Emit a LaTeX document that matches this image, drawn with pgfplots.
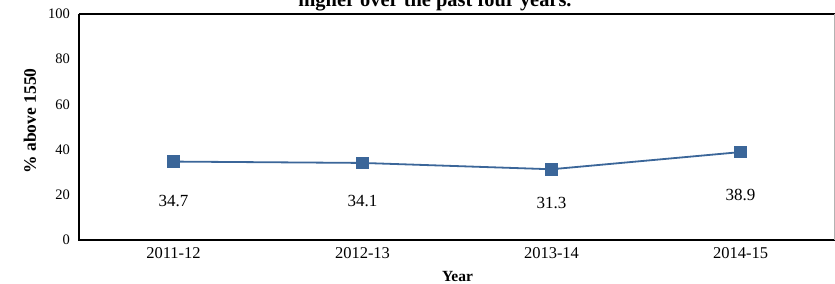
\documentclass[border=0pt]{standalone}
\usepackage{pgfplots}
\pgfplotsset{compat=1.18}
\usepackage{pgfplotstable}
\usepackage{fontspec}
\setmainfont{Liberation Serif}
\definecolor{serblue}{RGB}{59,102,153}
\pgfplotstableread{
x y off lab
0 34.7 -39.4 34.7
1 34.1 -37.8 34.1
2 31.3 -34.0 31.3
3 38.9 -43.0 38.9
}\datatab
\begin{document}
\begin{tikzpicture}
\begin{axis}[
  at={(0,0)}, anchor=south west,
  scale only axis, width=756bp, height=226bp,
  xmin=-0.5, xmax=3.5, ymin=0, ymax=100,
  xtick={0,1,2,3},
  xticklabels={2011-12,2012-13,2013-14,2014-15},
  ytick={0,20,40,60,80,100},
  major tick length=0pt,
  axis line style={draw=none},
  /pgf/number format/assume math mode=true,
  xticklabel style={font=\fontsize{16.5bp}{18bp}\selectfont, inner sep=0pt, anchor=north, yshift=-7bp},
  yticklabel style={font=\fontsize{14.5bp}{16bp}\selectfont, inner sep=0pt, anchor=east, xshift=-9bp},
  clip=false,
]
\addplot[color=serblue, line width=1.8bp, mark=square*, mark size=5.8bp,
  mark options={fill=serblue, draw=serblue, line width=0pt},
  visualization depends on={\thisrow{off} \as \off},
  nodes near coords, point meta=explicit symbolic,
  nodes near coords style={anchor=center, yshift=\off bp, text=black, font=\fontsize{17bp}{19bp}\selectfont}]
  table[x=x, y=y, meta=lab] {\datatab};
\draw[black, line width=2.5bp] (rel axis cs:0,1) -- (rel axis cs:0,0) -- (rel axis cs:1,0);
\draw[black, line width=2.5bp] (rel axis cs:0,1) -- (rel axis cs:1,1);
\end{axis}
\draw[gray!60, line width=1bp] (755.5bp,0) -- (755.5bp,226bp);
\node[anchor=base, font=\fontsize{20.4bp}{22bp}\selectfont\bfseries] at (356bp,233bp) {higher over the past four years.};
\node[rotate=90, font=\fontsize{17.5bp}{19bp}\selectfont\bfseries] at (-49bp,119bp) {\% above 1550};
\node[font=\fontsize{15.5bp}{17bp}\selectfont\bfseries] at (378.5bp,-37bp) {Year};
\pgfresetboundingbox
\path[use as bounding box] (-79bp,-44bp) rectangle (756bp,240bp);
\end{tikzpicture}
\end{document}
